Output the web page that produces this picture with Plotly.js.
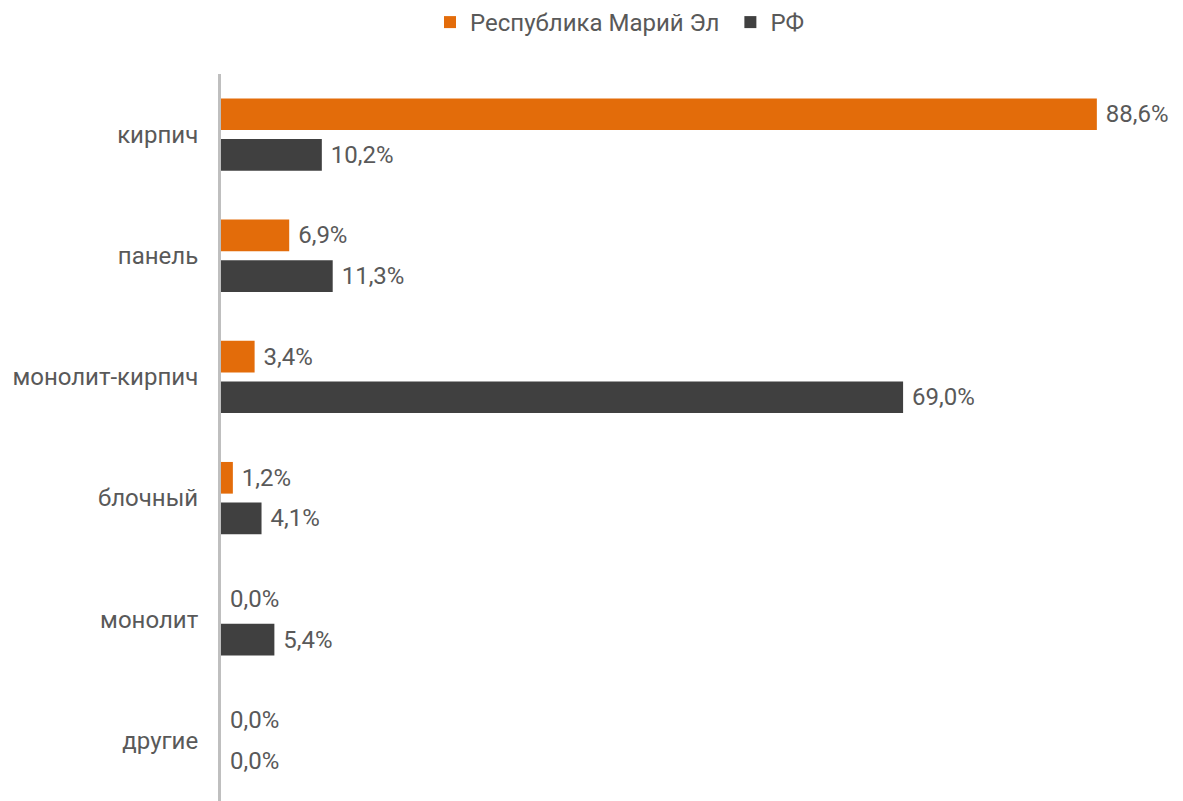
<!DOCTYPE html>
<html>
<head>
<meta charset="utf-8">
<script src="https://cdn.plot.ly/plotly-3.0.1.min.js"></script>
<style>html,body{margin:0;padding:0;background:#fff;}#chart{width:1183px;height:801px;}</style>
</head>
<body>
<div id="chart"></div>
<script>
const categories = ["кирпич", "панель", "монолит-кирпич", "блочный", "монолит", "другие"];
const seriesNames = ["Республика Марий Эл\u00A0", "РФ"];
const mariEl = [88.6, 6.9, 3.4, 1.2, 0.0, 0.0];
const rf = [10.2, 11.3, 69.0, 4.1, 5.4, 0.0];
const colors = ["#E36C0A", "#404040"];

function fmt(v){ return " " + v.toFixed(1).replace(".", ",") + "%"; }

const font = {family: "Roboto, 'Open Sans', sans-serif", size: 24, color: "#595959"};

const traces = [mariEl, rf].map((vals, i) => ({
  type: "bar",
  orientation: "h",
  name: seriesNames[i],
  y: categories,
  x: vals,
  text: vals.map(fmt),
  textposition: "outside",
  cliponaxis: false,
  textfont: font,
  marker: {color: colors[i]},
  hoverinfo: "skip"
}));

const layout = {
  width: 1183, height: 801,
  margin: {l: 221, r: 13, t: 74, b: 0},
  paper_bgcolor: "#fff", plot_bgcolor: "#fff",
  font: font,
  barmode: "group",
  bargap: 0.33,
  bargroupgap: 0.22,
  showlegend: true,
  legend: {orientation: "h", xref: "container", yref: "container", x: 430/1183, xanchor: "left", y: 1, yanchor: "top",
           font: font, traceorder: "normal", itemwidth: 30},
  xaxis: {range: [0, 96], showgrid: false, zeroline: false, showticklabels: false, showline: false, fixedrange: true},
  yaxis: {autorange: "reversed", showline: true, linecolor: "#BFBFBF", linewidth: 3, ticks: "", showgrid: false,
          zeroline: false, ticklabelstandoff: 15, tickfont: font, fixedrange: true}
};

Plotly.newPlot("chart", traces, layout, {displayModeBar: false, staticPlot: true});
</script>
</body>
</html>
